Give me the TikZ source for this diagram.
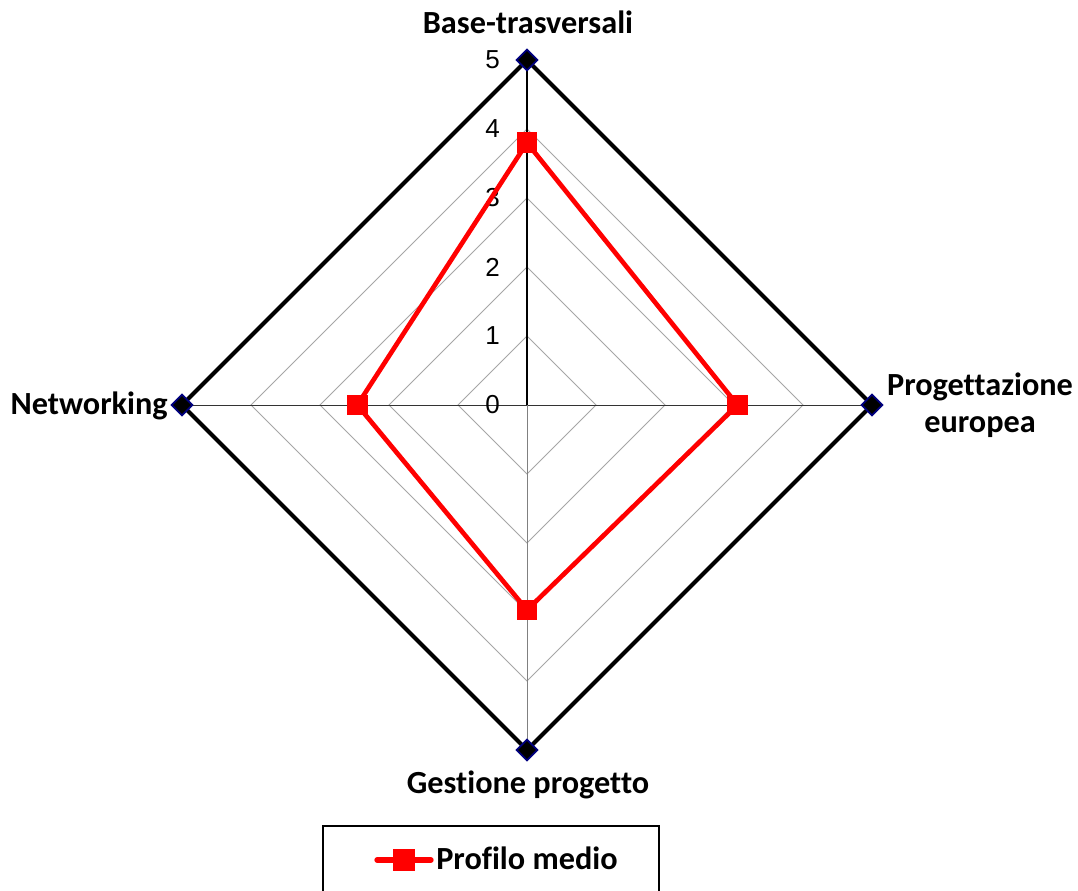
\documentclass[tikz,border=0pt]{standalone}
\usepackage{fontspec}
\setmainfont{Carlito}[Ligatures=NoCommon]
\newfontfamily\tickfont{Liberation Sans}
\usetikzlibrary{shapes.geometric}
\definecolor{navy}{RGB}{0,0,128}

\begin{document}
\begin{tikzpicture}[x=0.75pt,y=-0.75pt]
\tikzstyle{every node}+=[inner sep=0pt]
\tikzstyle{axislabel}=[font=\fontsize{24.2}{27.75}\selectfont\bfseries, align=center]
\tikzstyle{ticklabel}=[font=\tickfont\fontsize{19.5}{22}\selectfont, anchor=east]
\tikzstyle{redmark}=[rectangle, fill=red, minimum size=15.5pt]
\tikzstyle{bluemark}=[diamond, draw=navy, fill=black, line width=1.3pt, minimum size=16pt]
\useasboundingbox (0,0) rectangle (1078,890);
% axes vertices
\coordinate (o) at (527,405);
\coordinate (t5) at (527,60);
\coordinate (r5) at (872,405);
\coordinate (b5) at (527,750);
\coordinate (l5) at (182,405);
% grid
\foreach \r in {1,...,4}
  \draw [gray!70, line width=0.6pt] (527,405-69*\r) -- (527+69*\r,405) -- (527,405+69*\r) -- (527-69*\r,405) -- cycle;
\draw [black, line width=1.2pt] (o) -- (t5);
\draw [black!80, line width=0.7pt] (o) -- (r5);
\draw [black!80, line width=0.7pt] (o) -- (l5);
\draw [gray, line width=0.7pt] (o) -- (b5);
\draw [black, line width=3pt] (t5) -- (r5) -- (b5) -- (l5) -- cycle;
\foreach \p in {t5,r5,b5,l5}
  \node [bluemark] at (\p) {};
% tick labels
\foreach \v in {0,...,5}
  \node [ticklabel] at (500,405-69*\v) {\v};
% profile
\coordinate (pb) at (527,142.8);
\coordinate (pp) at (737.5,405);
\coordinate (pg) at (527,610);
\coordinate (pn) at (357.3,405);
\draw [red, line width=3.5pt, line join=round] (pb) -- (pp) -- (pg) -- (pn) -- cycle;
\foreach \p in {pb,pp,pg,pn}
  \node [redmark] at (\p) {};
% category labels
\node [axislabel, anchor=base] (lbase) at (528,33) {Base-trasversali};
\node [axislabel, anchor=north] (lprog) at (980,373) {Progettazione\\europea};
\node [axislabel, anchor=base east] (lnet) at (168,414) {Networking};
\node [axislabel, anchor=base] (lgest) at (528,793) {Gestione progetto};
% legend
\draw [black, line width=0.8pt] (323,826) rectangle (659,900);
\coordinate (la) at (377,860);
\coordinate (lb) at (431,860);
\draw [red, line width=4pt, line cap=round] (la) -- (lb);
\node [redmark, minimum size=16pt] (lm) at (404,860) {};
\node [axislabel, anchor=base west] (ltext) at (436,869) {Profilo medio};
\end{tikzpicture}
\end{document}
